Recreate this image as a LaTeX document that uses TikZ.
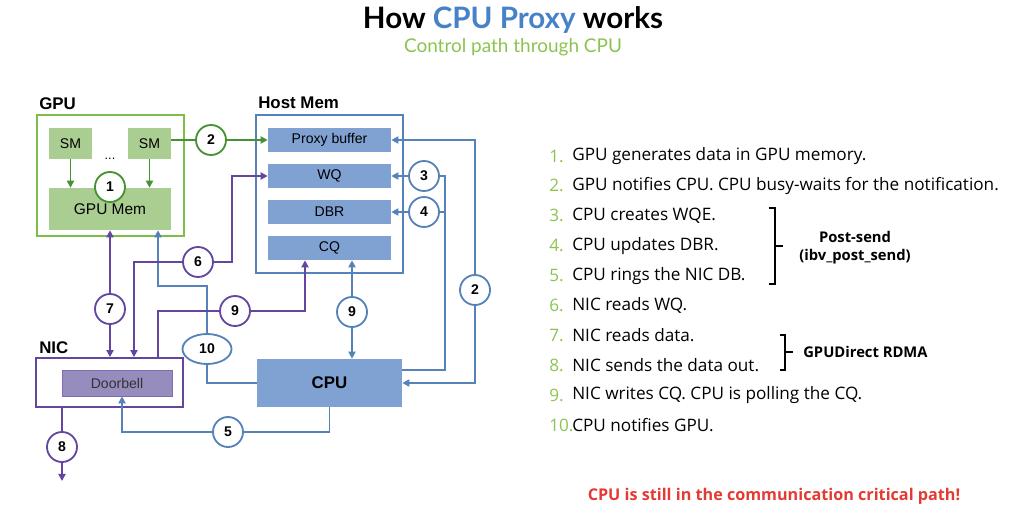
\documentclass[tikz,border=0pt]{standalone}
\usepackage{fontspec}
\setmainfont{Liberation Sans}
\newfontfamily\titlefont{Lato}
\newfontfamily\listfont{Open Sans}
\usepackage{tikz}
\usetikzlibrary{arrows.meta, positioning, shapes.geometric, calc}
\definecolor{gpugreen}{RGB}{125, 190, 70}
\definecolor{darkgreen}{RGB}{70, 145, 50}
\definecolor{smfill}{RGB}{170, 205, 145}
\definecolor{hostblue}{RGB}{85, 130, 185}
\definecolor{boxblue}{RGB}{128, 162, 210}
\definecolor{nicpurple}{RGB}{100, 70, 160}
\definecolor{bellfill}{RGB}{150, 140, 190}
\definecolor{titleblue}{RGB}{70, 130, 200}
\definecolor{subgreen}{RGB}{140, 195, 80}
\definecolor{alertred}{RGB}{228, 58, 50}

\begin{document}
\begin{tikzpicture}[
			x=0.025cm, y=-0.025cm,
			outerbox/.style={rectangle, draw, line width=1.3pt, fill=white, minimum width=3.675cm},
			unitbox/.style={rectangle, fill=boxblue, minimum width=3.075cm, minimum height=0.6cm, inner sep=0pt, font=\fontsize{10}{12}\selectfont},
			smbox/.style={rectangle, fill=smfill, minimum width=1.075cm, minimum height=0.775cm, inner sep=0pt, font=\fontsize{10}{12}\selectfont},
			stepnum/.style={circle, draw, fill=white, line width=1.3pt, minimum size=0.75cm, inner sep=0pt, font=\fontsize{10}{12}\selectfont\bfseries},
			blocklabel/.style={anchor=west, inner sep=0pt, font=\fontsize{12}{14}\selectfont\bfseries},
			conn/.style={line width=1.3pt},
			arr/.style={conn, -{Triangle[length=5pt, width=5pt]}}
		]
		\useasboundingbox (0,0) rectangle (1024,519);
		
		% Title
		\node[font=\titlefont\fontsize{21}{24}\selectfont\bfseries] (title) at (513,20) {How \textcolor{titleblue}{CPU Proxy} works};
		\node[font=\titlefont\fontsize{13.5}{15}\selectfont, text=subgreen] (subtitle) at (513,47) {Control path through CPU};
		
		% GPU
		\node[blocklabel] (gpulbl) at (39,104) {GPU};
		\node[outerbox, draw=gpugreen, minimum height=3.025cm] (gpu) at (110.5,175.5) {};
		\node[smbox] (sm1) at (70.5,143.5) {SM};
		\node[smbox] (sm2) at (149.5,143.5) {SM};
		\node[font=\small] (dots) at (110,159) {...};
		\node[rectangle, fill=smfill, minimum width=3.05cm, minimum height=1.05cm, font=\fontsize{11}{13}\selectfont] (gmem) at (110,209) {GPU Mem};
		\node[stepnum, draw=darkgreen] (c1) at (110,187) {1};
		
		% Host memory
		\node[blocklabel] (hostlbl) at (258,103) {Host Mem};
		\node[outerbox, draw=hostblue, minimum height=3.95cm] (host) at (329.5,194) {};
		\node[unitbox] (pbuf) at (329.5,140) {Proxy buffer};
		\node[unitbox] (wq) at (329.5,176) {WQ};
		\node[unitbox] (dbr) at (329.5,212) {DBR};
		\node[unitbox] (cq) at (329.5,248) {CQ};
		
		% CPU and NIC
		\node[rectangle, fill=boxblue, minimum width=3.625cm, minimum height=1.2cm, font=\fontsize{12}{14}\selectfont\bfseries] (cpu) at (329.5,383) {CPU};
		\node[blocklabel] (niclbl) at (39,348) {NIC};
		\node[outerbox, draw=nicpurple, minimum height=1.225cm] (nic) at (109.5,382.5) {};
		\node[rectangle, draw=nicpurple!80, fill=bellfill, minimum width=2.75cm, minimum height=0.65cm, font=\fontsize{10}{12}\selectfont, text=black!80] (bell) at (117,383) {Doorbell};
		
		% Step markers
		\node[stepnum, draw=darkgreen] (c2g) at (211,140) {2};
		\node[stepnum, draw=hostblue] (c3) at (424,176) {3};
		\node[stepnum, draw=hostblue] (c4) at (424,212) {4};
		\node[stepnum, draw=hostblue] (c2b) at (475,290) {2};
		\node[stepnum, draw=hostblue] (c9b) at (352,312) {9};
		\node[stepnum, draw=nicpurple] (c9p) at (235,311) {9};
		\node[stepnum, draw=nicpurple] (c6) at (198,262) {6};
		\node[stepnum, draw=nicpurple] (c7) at (110,309) {7};
		\node[ellipse, draw=hostblue, fill=white, line width=1.3pt, minimum width=1.225cm, minimum height=0.75cm, inner sep=0pt, font=\fontsize{10}{12}\selectfont\bfseries] (c10) at (207,349) {10};
		\node[stepnum, draw=hostblue] (c5) at (228,432) {5};
		\node[stepnum, draw=nicpurple] (c8) at (62,447) {8};
		
		% Bends of the connectors
		\coordinate (j34) at (445,370);
		\coordinate (j9) at (305,311);
		\coordinate (k9) at (158,311);
		\coordinate (j6) at (232,262);
		\coordinate (k6) at (134,262);
		\coordinate (j10) at (158,286);
		\coordinate (k5) at (122,432);
		\coordinate (out8) at (62,481);
		
		% Green connectors
		\draw[arr, darkgreen] (sm1.south) -- (sm1.south |- gmem.north);
		\draw[arr, darkgreen] (sm2.south) -- (sm2.south |- gmem.north);
		\draw[conn, darkgreen] (sm2.east |- pbuf) -- (c2g);
		\draw[arr, darkgreen] (c2g) -- (pbuf.west);
		
		% Blue connectors
		\draw[arr, hostblue] (c2b) |- (pbuf.east);
		\draw[arr, hostblue] (c2b) |- (cpu.east);
		\draw[conn, hostblue] (cpu.east |- j34) -- (j34) |- (c3.east);
		\draw[conn, hostblue] (j34 |- c4) -- (c4.east);
		\draw[arr, hostblue] (c3) -- (wq.east);
		\draw[arr, hostblue] (c4) -- (dbr.east);
		\draw[arr, hostblue] (c9b) -- (cq.south -| c9b);
		\draw[arr, hostblue] (c9b) -- (cpu.north -| c9b);
		\draw[arr, hostblue] (c10) |- (j10) -- (j10 |- gmem.south);
		\draw[conn, hostblue] (c10) |- (cpu.west);
		\draw[conn, hostblue] (cpu.south) |- (c5);
		\draw[arr, hostblue] (c5) -| (k5 |- bell.south);
		
		% Purple connectors
		\draw[arr, nicpurple] (c6) -- (j6) |- (wq.west);
		\draw[arr, nicpurple] (c6) -- (k6) -- (k6 |- nic.north);
		\draw[arr, nicpurple] (c7) -- (c7 |- gmem.south);
		\draw[arr, nicpurple] (c7) -- (c7 |- nic.north);
		\draw[arr, nicpurple] (c9p) -- (j9) -- (j9 |- cq.south);
		\draw[conn, nicpurple] (c9p) -- (k9) -- (k9 |- nic.north);
		\draw[conn, nicpurple] (nic.south -| c8) -- (c8);
		\draw[arr, nicpurple] (c8) -- (out8);
		
		% Steps list
		\foreach \i/\txt in {1/GPU generates data in GPU memory., 2/GPU notifies CPU. CPU busy-waits for the notification., 3/CPU creates WQE., 4/CPU updates DBR., 5/CPU rings the NIC DB., 6/NIC reads WQ., 7/NIC reads data., 8/NIC sends the data out., 9/NIC writes CQ. CPU is polling the CQ., 10/CPU notifies GPU.}{
			\node[anchor=west, inner sep=0pt, text=subgreen, font=\listfont\fontsize{12.2}{14}\selectfont] (num\i) at (549,{156+(\i-1)*29.9}) {\i.};
			\node[anchor=west, inner sep=0pt, font=\listfont\fontsize{12.2}{14}\selectfont] (item\i) at (572,{156+(\i-1)*29.9}) {\txt};
		}
		
		% Braces
		\draw[line width=1.2pt] (769,208) -- (775,208) -- (775,284) -- (769,284);
		\draw[line width=1.2pt] (775,246) -- (783,246);
		\node[font=\listfont\fontsize{10.5}{13}\selectfont\bfseries, align=center] (postsend) at (855,248) {Post-send\\(ibv\_post\_send)};
		\draw[line width=1.2pt] (780,335) -- (785,335) -- (785,370) -- (780,370);
		\draw[line width=1.2pt] (785,352) -- (793,352);
		\node[anchor=west, inner sep=0pt, font=\listfont\fontsize{10.5}{12}\selectfont\bfseries] (rdma) at (803,352) {GPUDirect RDMA};
		
		% Note
		\node[text=alertred, font=\listfont\fontsize{11.5}{13}\selectfont\bfseries] (note) at (774,496) {CPU is still in the communication critical path!};
\end{tikzpicture}
\end{document}
